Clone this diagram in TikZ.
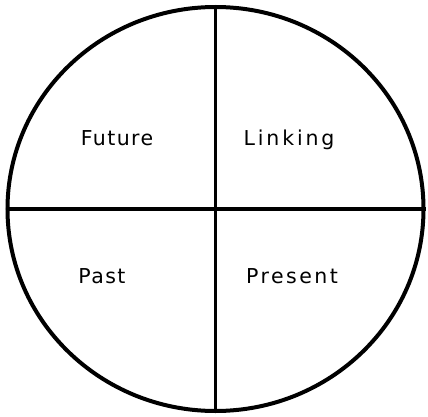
\documentclass[tikz,border=0pt]{standalone}
\usepackage{fontspec}
\newfontfamily\lblA{DejaVu Sans}[LetterSpace=7]
\newfontfamily\lblB{DejaVu Sans}[LetterSpace=14]
\newfontfamily\lblC{DejaVu Sans}[LetterSpace=12]
\usetikzlibrary{shapes.geometric}
\begin{document}
\begin{tikzpicture}[x=1pt,y=-1pt,
  disc/.style={draw=black,line width=4pt,ellipse,inner sep=0pt,minimum width=416pt,minimum height=404pt},
  divider/.style={draw=black,line width=3.5pt},
  lbl/.style={anchor=base,inner sep=0pt}]
\useasboundingbox (0,0) rectangle (428,417);
\node[disc] (c) at (215.5,209) {};
\draw[divider] (c.north) -- (c.south);
\draw[divider,line width=4.5pt] (c.west) -- (c.east);
\node[lbl,font=\lblA\fontsize{20.5}{22}\selectfont] (future) at (117,145) {Future};
\node[lbl,font=\lblB\fontsize{20.5}{22}\selectfont] (linking) at (289,145) {Linking};
\node[lbl,font=\lblA\fontsize{20.5}{22}\selectfont] (past) at (102,283) {Past};
\node[lbl,font=\lblC\fontsize{20.5}{22}\selectfont] (present) at (292,283) {Present};
\end{tikzpicture}
\end{document}
